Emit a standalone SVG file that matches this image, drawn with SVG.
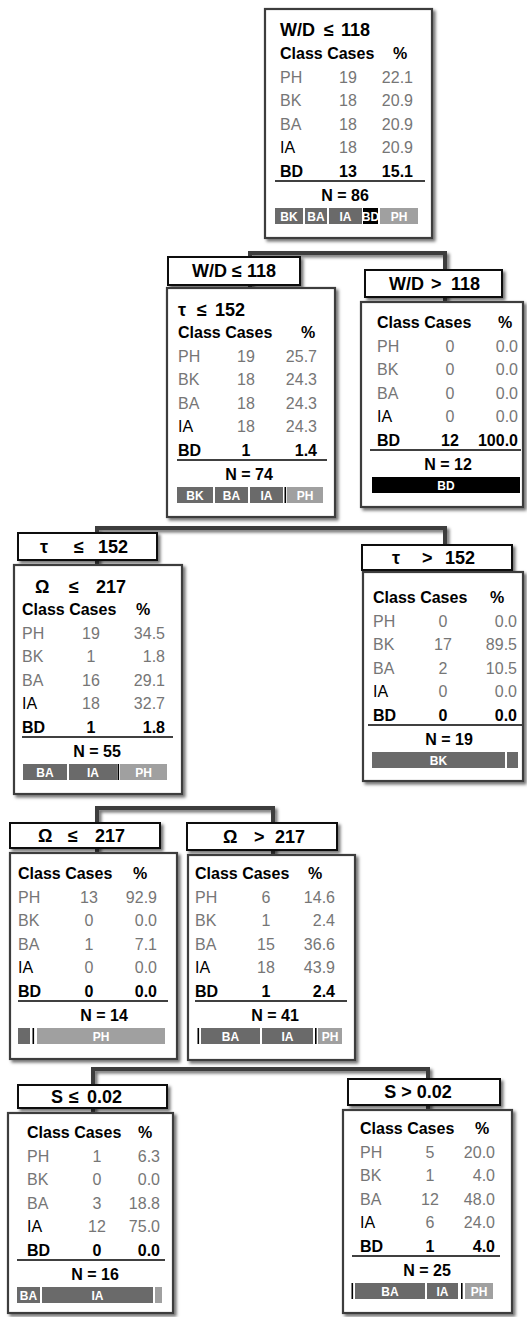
<svg xmlns="http://www.w3.org/2000/svg" width="527" height="1317" viewBox="0 0 527 1317">
<defs>
<filter id="sh" x="-10%" y="-10%" width="125%" height="125%">
<feDropShadow dx="2.5" dy="2.5" stdDeviation="1.5" flood-color="#000" flood-opacity="0.55"/>
</filter>
<style>
text{font-family:"Liberation Sans",Arial,sans-serif}
.box{fill:#fff;stroke:#3d3d3d;stroke-width:2.2;filter:url(#sh)}
.lab{fill:#fff;stroke:#111;stroke-width:2;filter:url(#sh)}
.t{font-size:18px;font-weight:bold;fill:#000}
.h{font-size:16px;font-weight:bold;fill:#000}
.g{font-size:16px;fill:#767676}
.k{font-size:16px;fill:#000}
.b{font-size:16px;font-weight:bold;fill:#000}
.m{text-anchor:middle}
.e{text-anchor:end}
.bt{font-size:12px;font-weight:bold;fill:#fff;text-anchor:middle}
.d{fill:#6a6a6a}.l{fill:#a0a0a0}.x{fill:#000}
.rule{stroke:#000;stroke-width:1.6}
.conn path{fill:none;stroke:#3d3d3d;stroke-width:4;filter:url(#sh)}
</style>
</defs>
<rect width="527" height="1317" fill="#fff"/>
<g id="connectors" class="conn">
<path d="M352 238 V253"/><path d="M250 288 V253 H445 V302"/>
<path d="M252 517 V528"/><path d="M97 565 V528 H445 V572"/>
<path d="M97 794 V808"/><path d="M97 853 V808 H273 V855"/>
<path d="M270 1060 V1069"/><path d="M93 1113 V1069 H428 V1110"/>
</g>

<g id="n0">
<rect class="box" x="265" y="9" width="167" height="229"/>
<text class="t" y="36"><tspan x="280">W/D</tspan> <tspan x="324">≤</tspan> <tspan x="341">118</tspan></text>
<text class="h" x="280" y="59">Class Cases</text><text class="h m" x="400" y="59">%</text>
<text class="g" x="280" y="82.5">PH</text><text class="g m" x="348" y="82.5">19</text><text class="g e" x="413" y="82.5">22.1</text>
<text class="g" x="280" y="106">BK</text><text class="g m" x="348" y="106">18</text><text class="g e" x="413" y="106">20.9</text>
<text class="g" x="280" y="129.5">BA</text><text class="g m" x="348" y="129.5">18</text><text class="g e" x="413" y="129.5">20.9</text>
<text class="k" x="280" y="153">IA</text><text class="g m" x="348" y="153">18</text><text class="g e" x="413" y="153">20.9</text>
<text class="b" x="280" y="176.5">BD</text><text class="b m" x="348" y="176.5">13</text><text class="b e" x="413" y="176.5">15.1</text>
<line class="rule" x1="275" y1="181" x2="425" y2="181"/>
<text class="b m" x="345" y="200.5">N = 86</text>
<rect class="d" x="275" y="208" width="28" height="16"/><text class="bt" x="289" y="220.5">BK</text>
<rect class="d" x="305" y="208" width="22" height="16"/><text class="bt" x="316" y="220.5">BA</text>
<rect class="d" x="329" y="208" width="33" height="16"/><text class="bt" x="345.5" y="220.5">IA</text>
<rect class="x" x="363" y="208" width="15" height="16"/><text class="bt" x="370.5" y="220.5">BD</text>
<rect class="l" x="380" y="208" width="38" height="16"/><text class="bt" x="399" y="220.5">PH</text>
</g>

<g id="n1">
<rect class="lab" x="168" y="257" width="132" height="28"/>
<text class="t" y="277"><tspan x="192">W/D</tspan> <tspan x="232">≤</tspan> <tspan x="247">118</tspan></text>
<rect class="box" x="167" y="288" width="168" height="229"/>
<text class="t" y="316"><tspan x="178">τ</tspan> <tspan x="197">≤</tspan> <tspan x="215">152</tspan></text>
<text class="h" x="178" y="338">Class Cases</text><text class="h m" x="308" y="338">%</text>
<text class="g" x="178" y="361.5">PH</text><text class="g m" x="246" y="361.5">19</text><text class="g e" x="317" y="361.5">25.7</text>
<text class="g" x="178" y="385">BK</text><text class="g m" x="246" y="385">18</text><text class="g e" x="317" y="385">24.3</text>
<text class="g" x="178" y="408.5">BA</text><text class="g m" x="246" y="408.5">18</text><text class="g e" x="317" y="408.5">24.3</text>
<text class="k" x="178" y="432">IA</text><text class="g m" x="246" y="432">18</text><text class="g e" x="317" y="432">24.3</text>
<text class="b" x="178" y="455.5">BD</text><text class="b m" x="246" y="455.5">1</text><text class="b e" x="317" y="455.5">1.4</text>
<line class="rule" x1="177" y1="460" x2="327" y2="460"/>
<text class="b m" x="249" y="479.5">N = 74</text>
<rect class="d" x="177" y="487" width="36" height="16"/><text class="bt" x="195" y="499.5">BK</text>
<rect class="d" x="215" y="487" width="33" height="16"/><text class="bt" x="231.5" y="499.5">BA</text>
<rect class="d" x="250" y="487" width="33" height="16"/><text class="bt" x="266.5" y="499.5">IA</text>
<rect class="x" x="284.5" y="487" width="1.6" height="16"/>
<rect class="l" x="287" y="487" width="36" height="16"/><text class="bt" x="305" y="499.5">PH</text>
</g>

<g id="n2">
<rect class="lab" x="365" y="270" width="137" height="27"/>
<text class="t" y="290"><tspan x="389">W/D</tspan> <tspan x="431">&gt;</tspan> <tspan x="451">118</tspan></text>
<rect class="box" x="361" y="302" width="162" height="205"/>
<text class="h" x="377" y="328">Class Cases</text><text class="h m" x="505" y="328">%</text>
<text class="g" x="377" y="351.5">PH</text><text class="g m" x="450" y="351.5">0</text><text class="g e" x="518" y="351.5">0.0</text>
<text class="g" x="377" y="375">BK</text><text class="g m" x="450" y="375">0</text><text class="g e" x="518" y="375">0.0</text>
<text class="g" x="377" y="398.5">BA</text><text class="g m" x="450" y="398.5">0</text><text class="g e" x="518" y="398.5">0.0</text>
<text class="k" x="377" y="422">IA</text><text class="g m" x="450" y="422">0</text><text class="g e" x="518" y="422">0.0</text>
<text class="b" x="377" y="445.5">BD</text><text class="b m" x="450" y="445.5">12</text><text class="b e" x="518" y="445.5">100.0</text>
<line class="rule" x1="370" y1="450" x2="521" y2="450"/>
<text class="b m" x="448" y="469.5">N = 12</text>
<rect class="x" x="372" y="477" width="148" height="16"/><text class="bt" x="446" y="489.5">BD</text>
</g>

<g id="n3">
<rect class="lab" x="18" y="533" width="139" height="27"/>
<text class="t" y="553"><tspan x="40">τ</tspan> <tspan x="74">≤</tspan> <tspan x="98">152</tspan></text>
<rect class="box" x="14" y="565" width="168" height="229"/>
<text class="t" y="593"><tspan x="35">Ω</tspan> <tspan x="69">≤</tspan> <tspan x="96">217</tspan></text>
<text class="h" x="22" y="615">Class Cases</text><text class="h m" x="143" y="615">%</text>
<text class="g" x="22" y="638.5">PH</text><text class="g m" x="91" y="638.5">19</text><text class="g e" x="165" y="638.5">34.5</text>
<text class="g" x="22" y="662">BK</text><text class="g m" x="91" y="662">1</text><text class="g e" x="165" y="662">1.8</text>
<text class="g" x="22" y="685.5">BA</text><text class="g m" x="91" y="685.5">16</text><text class="g e" x="165" y="685.5">29.1</text>
<text class="k" x="22" y="709">IA</text><text class="g m" x="91" y="709">18</text><text class="g e" x="165" y="709">32.7</text>
<text class="b" x="22" y="732.5">BD</text><text class="b m" x="91" y="732.5">1</text><text class="b e" x="165" y="732.5">1.8</text>
<line class="rule" x1="22" y1="737" x2="173" y2="737"/>
<text class="b m" x="97" y="756.5">N = 55</text>
<rect class="d" x="23" y="764" width="44" height="16"/><text class="bt" x="45" y="776.5">BA</text>
<rect class="d" x="69" y="764" width="48" height="16"/><text class="bt" x="93" y="776.5">IA</text>
<rect class="x" x="117.5" y="764" width="1.6" height="16"/>
<rect class="l" x="120" y="764" width="47" height="16"/><text class="bt" x="143.5" y="776.5">PH</text>
</g>

<g id="n4">
<rect class="lab" x="362" y="545" width="150" height="25"/>
<text class="t" y="564"><tspan x="392">τ</tspan> <tspan x="422">&gt;</tspan> <tspan x="445">152</tspan></text>
<rect class="box" x="363" y="572" width="160" height="209"/>
<text class="h" x="373" y="603">Class Cases</text><text class="h m" x="497" y="603">%</text>
<text class="g" x="373" y="626.5">PH</text><text class="g m" x="443" y="626.5">0</text><text class="g e" x="517" y="626.5">0.0</text>
<text class="g" x="373" y="650">BK</text><text class="g m" x="443" y="650">17</text><text class="g e" x="517" y="650">89.5</text>
<text class="g" x="373" y="673.5">BA</text><text class="g m" x="443" y="673.5">2</text><text class="g e" x="517" y="673.5">10.5</text>
<text class="k" x="373" y="697">IA</text><text class="g m" x="443" y="697">0</text><text class="g e" x="517" y="697">0.0</text>
<text class="b" x="373" y="720.5">BD</text><text class="b m" x="443" y="720.5">0</text><text class="b e" x="517" y="720.5">0.0</text>
<line class="rule" x1="368" y1="725" x2="522" y2="725"/>
<text class="b m" x="449" y="744.5">N = 19</text>
<rect class="d" x="372" y="752" width="133" height="16"/><text class="bt" x="438.5" y="764.5">BK</text>
<rect class="d" x="507" y="752" width="11" height="16"/>
</g>

<g id="n5">
<rect class="lab" x="10" y="823" width="150" height="25"/>
<text class="t" y="842"><tspan x="38">Ω</tspan> <tspan x="68">≤</tspan> <tspan x="95">217</tspan></text>
<rect class="box" x="10" y="853" width="167" height="206"/>
<text class="h" x="18" y="879">Class Cases</text><text class="h m" x="140" y="879">%</text>
<text class="g" x="18" y="902.5">PH</text><text class="g m" x="89" y="902.5">13</text><text class="g e" x="157" y="902.5">92.9</text>
<text class="g" x="18" y="926">BK</text><text class="g m" x="89" y="926">0</text><text class="g e" x="157" y="926">0.0</text>
<text class="g" x="18" y="949.5">BA</text><text class="g m" x="89" y="949.5">1</text><text class="g e" x="157" y="949.5">7.1</text>
<text class="k" x="18" y="973">IA</text><text class="g m" x="89" y="973">0</text><text class="g e" x="157" y="973">0.0</text>
<text class="b" x="18" y="996.5">BD</text><text class="b m" x="89" y="996.5">0</text><text class="b e" x="157" y="996.5">0.0</text>
<line class="rule" x1="18" y1="1001" x2="168" y2="1001"/>
<text class="b m" x="104" y="1020.5">N = 14</text>
<rect class="d" x="18" y="1028" width="12" height="16"/>
<rect class="x" x="32.5" y="1028" width="1.6" height="16"/>
<rect class="l" x="37" y="1028" width="128" height="16"/><text class="bt" x="101" y="1040.5">PH</text>
</g>

<g id="n6">
<rect class="lab" x="187" y="823" width="150" height="27"/>
<text class="t" y="843"><tspan x="223">Ω</tspan> <tspan x="254">&gt;</tspan> <tspan x="275">217</tspan></text>
<rect class="box" x="188" y="855" width="167" height="205"/>
<text class="h" x="195" y="879">Class Cases</text><text class="h m" x="315" y="879">%</text>
<text class="g" x="195" y="902.5">PH</text><text class="g m" x="266" y="902.5">6</text><text class="g e" x="335" y="902.5">14.6</text>
<text class="g" x="195" y="926">BK</text><text class="g m" x="266" y="926">1</text><text class="g e" x="335" y="926">2.4</text>
<text class="g" x="195" y="949.5">BA</text><text class="g m" x="266" y="949.5">15</text><text class="g e" x="335" y="949.5">36.6</text>
<text class="k" x="195" y="973">IA</text><text class="g m" x="266" y="973">18</text><text class="g e" x="335" y="973">43.9</text>
<text class="b" x="195" y="996.5">BD</text><text class="b m" x="266" y="996.5">1</text><text class="b e" x="335" y="996.5">2.4</text>
<line class="rule" x1="195" y1="1001" x2="347" y2="1001"/>
<text class="b m" x="275" y="1020.5">N = 41</text>
<rect class="x" x="197.5" y="1028" width="1.6" height="16"/>
<rect class="d" x="201" y="1028" width="59" height="16"/><text class="bt" x="230.5" y="1040.5">BA</text>
<rect class="d" x="262" y="1028" width="51" height="16"/><text class="bt" x="287.5" y="1040.5">IA</text>
<rect class="x" x="315" y="1028" width="1.6" height="16"/>
<rect class="l" x="318" y="1028" width="24" height="16"/><text class="bt" x="330" y="1040.5">PH</text>
</g>

<g id="n7">
<rect class="lab" x="18" y="1085" width="149" height="23"/>
<text class="t" y="1103"><tspan x="51">S</tspan> <tspan x="69">≤</tspan> <tspan x="87">0.02</tspan></text>
<rect class="box" x="8" y="1113" width="165" height="200"/>
<text class="h" x="27" y="1138">Class Cases</text><text class="h m" x="145" y="1138">%</text>
<text class="g" x="27" y="1161.5">PH</text><text class="g m" x="97" y="1161.5">1</text><text class="g e" x="160" y="1161.5">6.3</text>
<text class="g" x="27" y="1185">BK</text><text class="g m" x="97" y="1185">0</text><text class="g e" x="160" y="1185">0.0</text>
<text class="g" x="27" y="1208.5">BA</text><text class="g m" x="97" y="1208.5">3</text><text class="g e" x="160" y="1208.5">18.8</text>
<text class="k" x="27" y="1232">IA</text><text class="g m" x="97" y="1232">12</text><text class="g e" x="160" y="1232">75.0</text>
<text class="b" x="27" y="1255.5">BD</text><text class="b m" x="97" y="1255.5">0</text><text class="b e" x="160" y="1255.5">0.0</text>
<line class="rule" x1="17" y1="1260" x2="165" y2="1260"/>
<text class="b m" x="95" y="1279.5">N = 16</text>
<rect class="d" x="17" y="1287" width="23" height="16"/><text class="bt" x="28.5" y="1299.5">BA</text>
<rect class="d" x="42" y="1287" width="111" height="16"/><text class="bt" x="97.5" y="1299.5">IA</text>
<rect class="l" x="155" y="1287" width="7" height="16"/>
</g>

<g id="n8">
<rect class="lab" x="348" y="1079" width="152" height="26"/>
<text class="t m" x="418" y="1098">S &gt; 0.02</text>
<rect class="box" x="343" y="1110" width="169" height="203"/>
<text class="h" x="360" y="1134">Class Cases</text><text class="h m" x="482" y="1134">%</text>
<text class="g" x="360" y="1157.5">PH</text><text class="g m" x="430" y="1157.5">5</text><text class="g e" x="495" y="1157.5">20.0</text>
<text class="g" x="360" y="1181">BK</text><text class="g m" x="430" y="1181">1</text><text class="g e" x="495" y="1181">4.0</text>
<text class="g" x="360" y="1204.5">BA</text><text class="g m" x="430" y="1204.5">12</text><text class="g e" x="495" y="1204.5">48.0</text>
<text class="k" x="360" y="1228">IA</text><text class="g m" x="430" y="1228">6</text><text class="g e" x="495" y="1228">24.0</text>
<text class="b" x="360" y="1251.5">BD</text><text class="b m" x="430" y="1251.5">1</text><text class="b e" x="495" y="1251.5">4.0</text>
<line class="rule" x1="352" y1="1256" x2="500" y2="1256"/>
<text class="b m" x="427" y="1275.5">N = 25</text>
<rect class="x" x="351.5" y="1283" width="1.6" height="16"/>
<rect class="d" x="355" y="1283" width="70" height="16"/><text class="bt" x="390" y="1295.5">BA</text>
<rect class="d" x="427" y="1283" width="31" height="16"/><text class="bt" x="442.5" y="1295.5">IA</text>
<rect class="x" x="461" y="1283" width="1.6" height="16"/>
<rect class="l" x="465" y="1283" width="28" height="16"/><text class="bt" x="479" y="1295.5">PH</text>
</g>
</svg>
